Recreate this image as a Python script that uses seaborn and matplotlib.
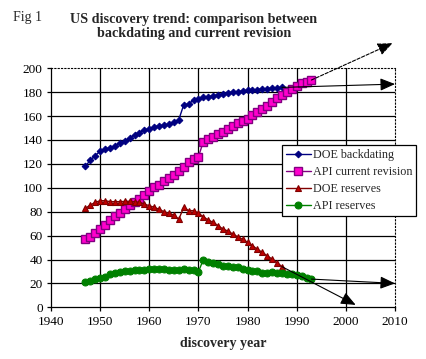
import matplotlib
matplotlib.use("Agg")
import matplotlib.pyplot as plt
import seaborn as sns
import pandas as pd

# ---------------- data ----------------
years_doe = [1947, 1948, 1949, 1950, 1951, 1952, 1953, 1954, 1955, 1956,
             1957, 1958, 1959, 1960, 1961, 1962, 1963, 1964, 1965, 1966,
             1967, 1968, 1969, 1970, 1971, 1972, 1973, 1974, 1975, 1976,
             1977, 1978, 1979, 1980, 1981, 1982, 1983, 1984, 1985, 1986,
             1987]
years_api = years_doe + [1988, 1989, 1990, 1991, 1992, 1993]

doe_backdating = [118.2, 123.0, 127.0, 130.5, 132.2, 133.5, 135.0, 137.5, 139.2, 141.4,
                  144.2, 146.1, 148.4, 149.2, 151.1, 151.7, 152.5, 153.2, 154.8, 157.0,
                  169.3, 170.0, 173.5, 174.3, 175.7, 176.2, 177.0, 177.7, 178.7, 179.5,
                  180.0, 180.5, 181.0, 181.5, 182.0, 182.2, 182.8, 183.0, 183.3, 183.6,
                  184.0]
api_revision = [56.9, 59.0, 62.0, 65.5, 68.9, 73.0, 76.7, 79.2, 82.3, 85.6,
                88.0, 90.4, 94.0, 97.6, 100.7, 102.6, 105.4, 108.0, 111.0, 114.3,
                117.7, 121.3, 123.8, 126.0, 138.6, 140.8, 142.8, 145.0, 147.0, 149.0,
                152.0, 154.0, 156.0, 157.3, 161.0, 163.7, 165.7, 168.7, 172.0, 174.8,
                177.7, 180.4, 183.0, 185.3, 187.6, 188.8, 190.2]
doe_reserves = [82.8, 85.6, 87.8, 89.2, 89.2, 88.4, 88.4, 88.4, 88.6, 88.6,
                88.4, 87.8, 86.4, 85.0, 83.7, 82.0, 80.0, 78.6, 77.2, 73.6,
                83.6, 80.9, 80.9, 78.6, 75.8, 73.0, 71.1, 68.3, 65.5, 63.8,
                61.3, 59.0, 56.9, 54.4, 51.6, 48.5, 46.0, 43.0, 40.4, 37.3,
                34.0]
api_reserves = [21.2, 22.0, 23.4, 24.5, 25.6, 27.9, 28.4, 29.8, 30.1, 30.6,
                31.0, 31.0, 31.0, 32.3, 32.3, 32.3, 32.0, 31.2, 31.2, 31.2,
                32.0, 31.4, 31.2, 29.8, 39.9, 38.2, 36.8, 36.0, 34.8, 34.6,
                33.5, 33.5, 32.3, 31.2, 30.6, 30.4, 29.0, 29.0, 29.5, 29.0,
                29.0, 27.9, 27.9, 27.0, 26.2, 24.8, 23.6]

series_names = ["DOE backdating", "API current revision", "DOE reserves", "API reserves"]
# projection arrow end points (year, value)
arrow_end_years = [2010, 2009.5, 2002, 2010]
arrow_end_values = [186.8, 221, 2, 20]

x_ticks = [1940, 1950, 1960, 1970, 1980, 1990, 2000, 2010]
y_ticks = [0, 20, 40, 60, 80, 100, 120, 140, 160, 180, 200]

# ---------------- style ----------------
sns.set_style("ticks")
plt.rcParams["font.family"] = ["Liberation Serif", "DejaVu Serif"]

fig = plt.figure(figsize=(4.27, 3.59), dpi=100)
ax = fig.add_axes([51 / 427, 1 - 307.3 / 359, 344 / 427, 239 / 359])

# grid (interior lines only; border handled by spines)
for yv in y_ticks[1:-1]:
    ax.axhline(yv, color="black", lw=0.9, zorder=0)
for xv in x_ticks[1:-1]:
    ax.axvline(xv, color="black", lw=0.9, zorder=0)

df_doe = pd.DataFrame({"year": years_doe, "backdating": doe_backdating, "reserves": doe_reserves})
df_api = pd.DataFrame({"year": years_api, "revision": api_revision, "reserves": api_reserves})

sns.lineplot(data=df_doe, x="year", y="backdating", ax=ax, color="#000080", lw=1,
             marker="D", markersize=3.4, markerfacecolor="#000080",
             markeredgecolor="#000080", label=series_names[0], zorder=3)
sns.lineplot(data=df_api, x="year", y="revision", ax=ax, color="#800080", lw=1,
             marker="s", markersize=5.2, markerfacecolor="#FF00CC",
             markeredgecolor="#800080", markeredgewidth=1, label=series_names[1], zorder=3)
sns.lineplot(data=df_doe, x="year", y="reserves", ax=ax, color="#800000", lw=1,
             marker="^", markersize=4.2, markerfacecolor="#C00000",
             markeredgecolor="#800000", markeredgewidth=0.8, label=series_names[2], zorder=3)
sns.lineplot(data=df_api, x="year", y="reserves", ax=ax, color="#008000", lw=1,
             marker="o", markersize=5, markerfacecolor="#008000",
             markeredgecolor="#008000", label=series_names[3], zorder=3)

# projection arrows starting from each series' last point
starts = [(years_doe[-1], doe_backdating[-1]), (years_api[-1], api_revision[-1]),
          (years_doe[-1], doe_reserves[-1]), (years_api[-1], api_reserves[-1])]
styles = ["-", (0, (3, 1.5)), "-", "-"]
for (sx, sy), ex, ey, ls in zip(starts, arrow_end_years, arrow_end_values, styles):
    ax.annotate("", xy=(ex, ey), xytext=(sx, sy), annotation_clip=False,
                arrowprops=dict(arrowstyle="-|>,head_length=0.9,head_width=0.38",
                                mutation_scale=10, color="black", lw=0.8,
                                linestyle=ls, shrinkA=0, shrinkB=0), zorder=4)

ax.set_xlim(1940, 2010)
ax.set_ylim(0, 200)
ax.set_xticks(x_ticks)
ax.set_xticklabels([str(v) for v in x_ticks])
ax.set_yticks(y_ticks)
ax.set_yticklabels([str(v) for v in y_ticks])
ax.tick_params(axis="both", labelsize=9.5, length=3, width=0.9, color="black",
               labelcolor="black", pad=3, direction="out")

for side in ["left", "bottom"]:
    ax.spines[side].set_color("black")
    ax.spines[side].set_linewidth(0.9)
for side in ["top", "right"]:
    ax.spines[side].set_visible(True)
    ax.spines[side].set_color("black")
    ax.spines[side].set_linewidth(0.8)
    ax.spines[side].set_linestyle((0, (1, 2)))

ax.set_ylabel("")
ax.set_xlabel("discovery year", fontsize=10, fontweight="bold", labelpad=7)

handles, labels = ax.get_legend_handles_labels()
leg = ax.legend(handles, labels, loc="upper left", bbox_to_anchor=(0.672, 0.678),
                frameon=True, fancybox=False, framealpha=1, edgecolor="black",
                fontsize=8.7, handlelength=2.1, handletextpad=0.15, labelspacing=0.42,
                borderpad=0.3, borderaxespad=0)
leg.get_frame().set_linewidth(0.9)
leg.set_zorder(5)

fig.text(13 / 427, 1 - 20.5 / 359, "Fig 1", fontsize=10, ha="left", va="baseline")
fig.text(194 / 427, 1 - 36.5 / 359,
         "US discovery trend: comparison between\nbackdating and current revision",
         fontsize=10.2, fontweight="bold", ha="center", va="baseline",
         multialignment="center", linespacing=1.05)

fig.savefig("out.png", dpi=100)
